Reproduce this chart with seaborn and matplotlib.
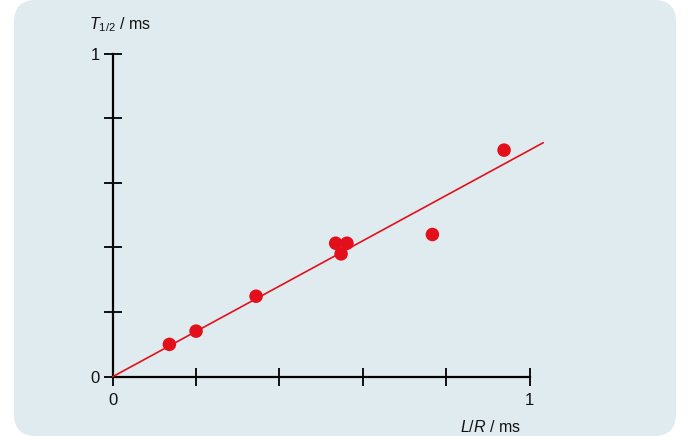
import matplotlib
matplotlib.use("Agg")
import matplotlib.pyplot as plt
from matplotlib.patches import FancyBboxPatch
from matplotlib.transforms import IdentityTransform
import seaborn as sns
import pandas as pd

# measured L/R and half-time values (ms)
lr_ms = [0.136, 0.200, 0.344, 0.535, 0.562, 0.548, 0.767, 0.939]
t_half_ms = [0.100, 0.141, 0.249, 0.413, 0.413, 0.380, 0.440, 0.701]

# proportional fit line T1/2 = k * L/R
fit_x = [0.0, 1.033]
fit_y = [0.0, 0.724]

tick_vals = [0, 0.2, 0.4, 0.6, 0.8, 1]
tick_labels = ["0", "", "", "", "", "1"]

RED = "#e3101c"
PANEL = "#e0ebef"

sns.set_theme(style="white")
plt.rcParams["font.family"] = ["Liberation Sans", "DejaVu Sans"]
plt.rcParams["mathtext.fontset"] = "custom"
plt.rcParams["mathtext.rm"] = "Liberation Sans"
plt.rcParams["mathtext.it"] = "Liberation Sans:italic"

fig = plt.figure(figsize=(6.93, 4.36), dpi=100, facecolor="white")

# rounded panel behind the chart (pixel coordinates)
panel = FancyBboxPatch((14, 0), 662, 436,
                       boxstyle="round,pad=0,rounding_size=22",
                       transform=IdentityTransform(), facecolor=PANEL,
                       edgecolor="none", zorder=-10)
fig.patches.append(panel)

ax = fig.add_axes([112.7 / 693, 59.3 / 436, 416.8 / 693, 323.2 / 436])
ax.set_facecolor("none")
ax.patch.set_visible(False)

pts = pd.DataFrame({"lr": lr_ms, "t": t_half_ms})
fit = pd.DataFrame({"lr": fit_x, "t": fit_y})

sns.lineplot(data=fit, x="lr", y="t", ax=ax, color=RED, linewidth=1.2,
             clip_on=False, zorder=2)
sns.scatterplot(data=pts, x="lr", y="t", ax=ax, color=RED, s=95,
                edgecolor="none", clip_on=False, zorder=3)

ax.set_xlim(0, 1)
ax.set_ylim(0, 1)
ax.set_xticks(tick_vals)
ax.set_xticklabels(tick_labels)
ax.set_yticks(tick_vals)
ax.set_yticklabels(tick_labels)
ax.set_xlabel("")
ax.set_ylabel("")

for side in ("top", "right"):
    ax.spines[side].set_visible(False)
for side in ("left", "bottom"):
    ax.spines[side].set_color("black")
    ax.spines[side].set_linewidth(1.6)
    ax.spines[side].set_zorder(1)

ax.tick_params(axis="both", which="major", direction="inout", length=13,
               width=1.3, color="black", labelsize=12, labelcolor="#111111",
               bottom=True, left=True)
ax.tick_params(axis="x", pad=5)
ax.tick_params(axis="y", pad=3)

fig.text(89 / 693, 1 - 25 / 436, r"$T_{\mathrm{1/2}}$ / ms", fontsize=11.5,
         ha="left", va="center", color="#111111")
fig.text(521 / 693, 1 - 427 / 436, r"$L/R$ / ms", fontsize=11.5,
         ha="right", va="center", color="#111111")

fig.savefig("out.png", dpi=100, facecolor="white")
